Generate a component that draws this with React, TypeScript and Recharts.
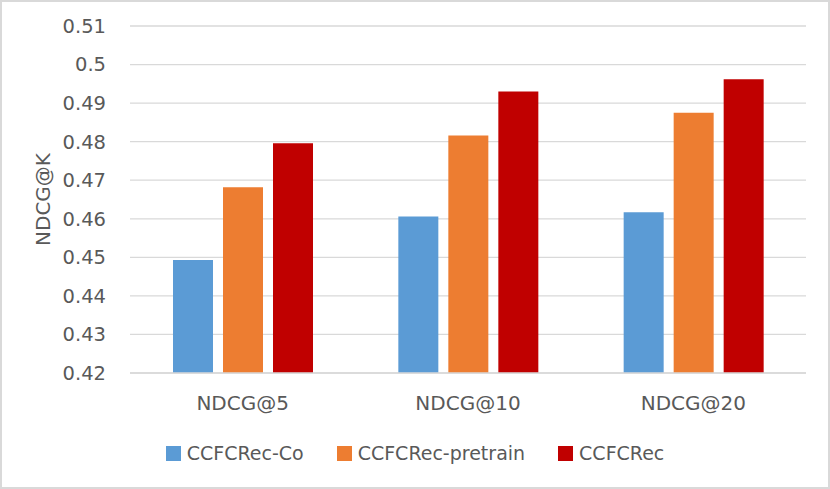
import { BarChart, Bar, XAxis, YAxis, CartesianGrid, Legend } from 'recharts'

const categories = ['NDCG@5', 'NDCG@10', 'NDCG@20']
const coValues = [0.4493, 0.4606, 0.4617]
const pretrainValues = [0.4682, 0.4816, 0.4875]
const ccfcrecValues = [0.4796, 0.4930, 0.4962]
const yTicks = [0.42, 0.43, 0.44, 0.45, 0.46, 0.47, 0.48, 0.49, 0.5, 0.51]

const SERIES = [
  { key: 'co', label: 'CCFCRec-Co', color: '#5B9BD5' },
  { key: 'pretrain', label: 'CCFCRec-pretrain', color: '#ED7D31' },
  { key: 'ccfcrec', label: 'CCFCRec', color: '#C00000' }
]

const data = categories.map((name, i) => ({
  name,
  co: coValues[i],
  pretrain: pretrainValues[i],
  ccfcrec: ccfcrecValues[i]
}))

const FONT = '"DejaVu Sans", sans-serif'
const TEXT = '#595959'
const GRID = '#d9d9d9'

function renderLegend(props: any) {
  // keep the series order, recharts sorts the payload by name
  const payload = [...(props.payload || [])].sort(
    (a: any, b: any) =>
      SERIES.findIndex(s => s.label === a.value) - SERIES.findIndex(s => s.label === b.value)
  )
  return (
    <div
      style={{
        display: 'flex',
        justifyContent: 'center',
        gap: 33,
        fontFamily: FONT,
        fontSize: 19,
        lineHeight: '22px',
        color: TEXT
      }}
    >
      {payload.map((entry: any) => (
        <span key={entry.value} style={{ display: 'flex', alignItems: 'center' }}>
          <span
            style={{ display: 'inline-block', width: 15, height: 15, background: entry.color, marginRight: 6 }}
          />
          {entry.value}
        </span>
      ))}
    </div>
  )
}

function renderYLabel(props: any) {
  const { x, y, height } = props.viewBox
  const cx = x + 50
  const cy = y + height / 2
  return (
    <text
      x={cx}
      y={cy}
      transform={`rotate(-90, ${cx}, ${cy})`}
      textAnchor="middle"
      fill={TEXT}
      fontFamily={FONT}
      fontSize={20}
    >
      NDCG@K
    </text>
  )
}

export default function App() {
  return (
    <div
      style={{
        position: 'absolute',
        top: 0,
        left: 0,
        width: 830,
        height: 489,
        boxSizing: 'border-box',
        border: `2px solid ${GRID}`,
        background: '#fff'
      }}
    >
      <div style={{ position: 'absolute', top: -2, left: -2 }}>
        <BarChart
          width={830}
          height={489}
          data={data}
          margin={{ top: 26, right: 24, bottom: 25, left: 0 }}
          barSize={40}
          barGap={10}
        >
          <CartesianGrid vertical={false} stroke={GRID} strokeWidth={1.3} />
          <XAxis
            dataKey="name"
            height={69}
            tick={{ fill: TEXT, fontSize: 20, fontFamily: FONT }}
            tickLine={false}
            tickMargin={17}
            axisLine={{ stroke: GRID, strokeWidth: 1.3 }}
          />
          <YAxis
            width={130}
            domain={[0.42, 0.51]}
            ticks={yTicks}
            interval={0}
            tickFormatter={(v: number) => String(Number(v.toFixed(2)))}
            tick={{ fill: TEXT, fontSize: 19.5, fontFamily: FONT }}
            tickLine={false}
            tickMargin={18}
            axisLine={false}
            label={{ content: renderYLabel }}
          />
          <Legend
            verticalAlign="bottom"
            content={renderLegend}
            wrapperStyle={{ left: 0, width: 830 }}
          />
          {SERIES.map(s => (
            <Bar key={s.key} dataKey={s.key} name={s.label} fill={s.color} isAnimationActive={false} />
          ))}
        </BarChart>
      </div>
    </div>
  )
}
